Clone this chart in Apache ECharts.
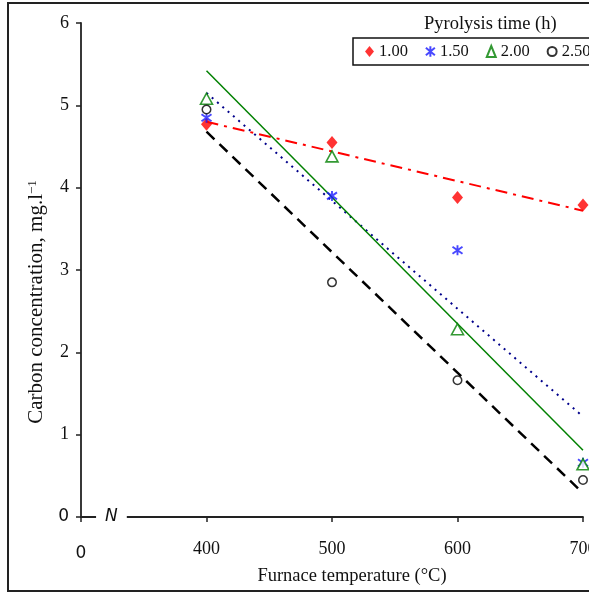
<!DOCTYPE html>
<html>
<head>
<meta charset="utf-8">
<script src="https://cdn.jsdelivr.net/npm/echarts@6/dist/echarts.min.js"></script>
<style>
html,body{margin:0;padding:0;overflow:hidden;background:#fff;}
#c{position:absolute;left:0;top:0;width:620px;height:593px;}
</style>
</head>
<body>
<div id="c"></div>
<script>
// ---- data ----
const temps = [400, 500, 600, 700];
const seriesNames = ['1.00', '1.50', '2.00', '2.50'];
const c100 = [4.77, 4.55, 3.88, 3.79];
const c150 = [4.85, 3.90, 3.24, 0.66];
const c200 = [5.08, 4.38, 2.28, 0.64];
const c250 = [4.95, 2.85, 1.66, 0.45];
// trend-line end points (x = 400 and 700)
const trendX = [400, 700];
const t100 = [4.80, 3.72];
const t150 = [5.15, 1.22];
const t200 = [5.42, 0.81];
const t250 = [4.68, 0.29];
const xTicks = [300, 400, 500, 600, 700];
const yTicks = [0, 1, 2, 3, 4, 5, 6];

const SERIF = 'Liberation Serif';
const SANS = 'DejaVu Sans';
const ASTER = 'path://M0,-5L0,5M-4.2,-3.5L4.2,3.5M-4.2,3.5L4.2,-3.5';

function pts(xs, ys){ return xs.map((x,i)=>[x, ys[i]]); }

const chart = echarts.init(document.getElementById('c'), null, {renderer:'canvas'});

const scatterDefs = [
  {name: seriesNames[0], data: c100, symbol: 'diamond', size: [11,13], itemStyle:{color:'#ff0000'}},
  {name: seriesNames[1], data: c150, symbol: ASTER, size: 10, itemStyle:{color:'#1a1aff', borderColor:'#1a1aff', borderWidth:1.9}},
  {name: seriesNames[2], data: c200, symbol: 'triangle', size: [12,11], itemStyle:{color:'#ffffff', borderColor:'#008000', borderWidth:1.6}},
  {name: seriesNames[3], data: c250, symbol: 'circle', size: 8.5, itemStyle:{color:'#ffffff', borderColor:'#000000', borderWidth:1.5}}
];
const lineDefs = [
  {data: t100, lineStyle:{color:'#ff0000', width:2, type:[12,6,3,6]}},
  {data: t150, lineStyle:{color:'#00008b', width:2, type:[2,5]}},
  {data: t200, lineStyle:{color:'#008000', width:1.5, type:'solid'}},
  {data: t250, lineStyle:{color:'#000000', width:2.5, type:[11,7]}}
];

const series = [];
lineDefs.forEach((d,i)=>{
  series.push({type:'line', name:'trend'+i, data: pts(trendX, d.data), symbol:'none', silent:true,
    lineStyle: d.lineStyle, z:2, animation:false});
});
scatterDefs.forEach(d=>{
  series.push({type:'scatter', name:d.name, data: pts(temps, d.data), symbol:d.symbol, symbolSize:d.size,
    itemStyle:d.itemStyle, z:3, animation:false});
});

const axisColor = '#222';
const frame = {type:'rect', shape:{x:8, y:3, width:700, height:588}, style:{fill:'none', stroke:'#222', lineWidth:2}, z:0, silent:true};
const option = {
  animation:false,
  backgroundColor:'#fff',
  grid:{left:81, top:23, width:502, height:494, containLabel:false},
  title:{text:'Pyrolysis time (h)', left:419, top:10,
    textStyle:{fontFamily:SERIF, fontSize:18.5, fontWeight:'normal', color:'#111'}},
  legend:{
    data: scatterDefs.map(d=>({name:d.name, icon:d.symbol})),
    left:353, top:38, orient:'horizontal',
    padding:[5,14,5,12], itemGap:17, itemWidth:9, itemHeight:11,
    borderColor:'#111', borderWidth:1.5, selectedMode:false,
    textStyle:{fontFamily:SERIF, fontSize:16.5, color:'#111', padding:[0,0,0,0]}
  },
  xAxis:{
    type:'value', min:300, max:700, interval:100,
    name:'Furnace temperature (°C)', nameLocation:'middle', nameGap:47,
    nameTextStyle:{fontFamily:SERIF, fontSize:18.5, color:'#111', padding:[0,0,0,40]},
    axisLine:{show:true, lineStyle:{color:axisColor, width:1.8}},
    axisTick:{show:true, length:5, lineStyle:{color:axisColor, width:1.5}},
    axisLabel:{margin:23, fontFamily:SERIF, fontSize:18, color:'#111',
      formatter:v=> v===xTicks[0] ? '{s|0}' : String(v),
      rich:{s:{fontFamily:SANS, fontSize:17, color:'#111', padding:[5,0,0,0]}}},
    splitLine:{show:false}
  },
  yAxis:{
    type:'value', min:0, max:6, interval:1,
    name:'Carbon concentration, mg.l{sup|−1}', nameLocation:'middle', nameGap:31, nameRotate:90,
    nameTextStyle:{fontFamily:SERIF, fontSize:21, color:'#111', padding:[0,64,0,0],
      rich:{sup:{fontFamily:SERIF, fontSize:13, color:'#111', verticalAlign:'top', lineHeight:12}}},
    axisLine:{show:true, lineStyle:{color:axisColor, width:1.8}},
    axisTick:{show:true, length:5, lineStyle:{color:axisColor, width:1.5}},
    axisLabel:{margin:12, fontFamily:SERIF, fontSize:18, color:'#111',
      formatter:v=> v===yTicks[0] ? '{s|0}' : String(v),
      rich:{s:{fontFamily:SANS, fontSize:17, color:'#111'}}},
    splitLine:{show:false}
  },
  graphic:[frame],
  series: series
};
chart.setOption(option);

// axis break on the x axis (decoration, positioned through the axis scale)
const p0 = chart.convertToPixel({gridIndex:0}, [300, 0]);
const pA = chart.convertToPixel({gridIndex:0}, [312, 0]);
const pB = chart.convertToPixel({gridIndex:0}, [336.5, 0]);
chart.setOption({graphic:[
  frame,
  {type:'rect', shape:{x:pA[0], y:p0[1]-3, width:pB[0]-pA[0], height:6}, style:{fill:'#fff'}, z:50, silent:true},
  {type:'text', x:(pA[0]+pB[0])/2, y:p0[1], style:{text:'N', font:'italic 17px "DejaVu Sans"', fill:'#111', align:'center', verticalAlign:'middle'}, z:51, silent:true}
]});
</script>
</body>
</html>
